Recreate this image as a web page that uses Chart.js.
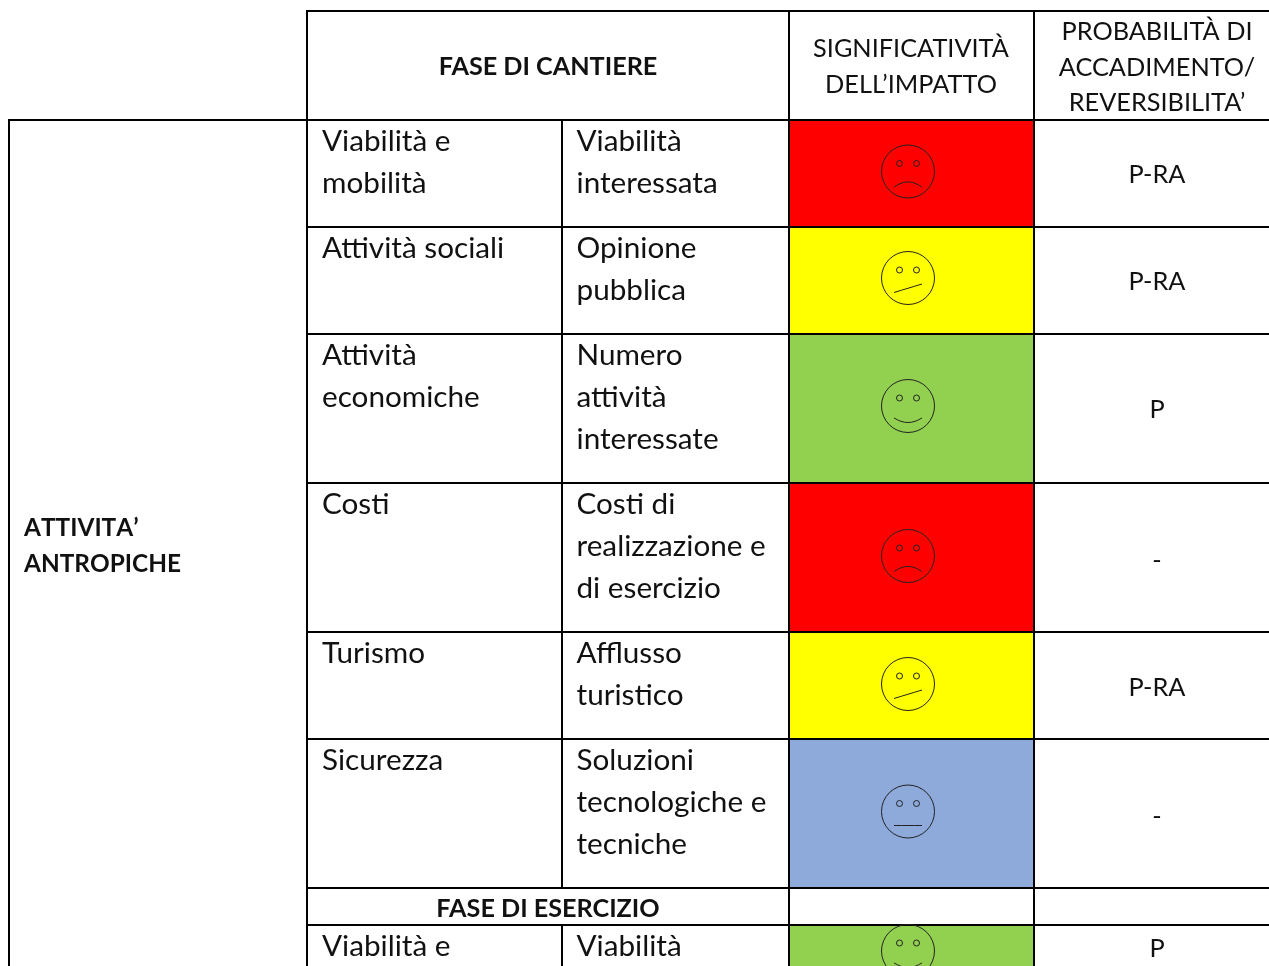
<!DOCTYPE html>
<html>
<head>
<meta charset="utf-8">
<title>Fase di cantiere</title>
<script src="https://cdn.jsdelivr.net/npm/chart.js@4"></script>
<style>
  html, body { margin: 0; padding: 0; background: #fff; overflow: hidden; }
  canvas { display: block; }
</style>
</head>
<body>
<canvas id="impactTable" width="1269" height="966"></canvas>
<script>
// table content
const groupLabel = ["ATTIVITA’", "ANTROPICHE"];
const phaseLabels = ["FASE DI CANTIERE", "FASE DI ESERCIZIO"];
const impactHeader = ["SIGNIFICATIVITÀ", "DELL’IMPATTO"];
const probabilityHeader = ["PROBABILITÀ DI", "ACCADIMENTO/", "REVERSIBILITA’"];
const themes = [["Viabilità e", "mobilità"], ["Attività sociali"], ["Attività", "economiche"], ["Costi"], ["Turismo"], ["Sicurezza"], ["Viabilità e"]];
const indicators = [["Viabilità", "interessata"], ["Opinione", "pubblica"], ["Numero", "attività", "interessate"], ["Costi di", "realizzazione e", "di esercizio"], ["Afflusso", "turistico"], ["Soluzioni", "tecnologiche e", "tecniche"], ["Viabilità"]];
const impacts = ["negative", "medium", "positive", "negative", "medium", "neutral", "positive"];
const probabilities = ["P-RA", "P-RA", "P", "-", "P-RA", "-", "P"];

// layout of the table, in page pixels
const colEdges = [9, 307, 562, 789, 1034, 1269];
const rowTops = [120, 227, 334, 483, 632, 739, 925];
const rowBottoms = [227, 334, 483, 632, 739, 888, 966];
const faceRows = [171.5, 278, 406, 556, 684, 811.5, 951];
const probRows = [183, 290, 418, 569, 696, 825, 957];
const faceX = 908;

const impactColors = { negative: "#ff0000", medium: "#ffff00", positive: "#92d050", neutral: "#8eaadb" };
// mouth shape: offsets from the face centre
const mouths = {
  negative: [[-14, 15.5], [-7, 11.8], [0, 10.5], [7, 11.8], [14, 15.5]],
  medium: [[-14, 14.5], [14, 6]],
  positive: [[-14, 12], [-7, 15.3], [0, 16.5], [7, 15.3], [14, 12]],
  neutral: [[-14, 14], [14, 14]]
};

const rules = [
  [[307, 11], [1269, 11]],
  [[9, 120], [1269, 120]],
  [[307, 227], [1269, 227]],
  [[307, 334], [1269, 334]],
  [[307, 483], [1269, 483]],
  [[307, 632], [1269, 632]],
  [[307, 739], [1269, 739]],
  [[307, 888], [1269, 888]],
  [[307, 925], [1269, 925]],
  [[9, 119], [9, 966]],
  [[307, 10], [307, 966]],
  [[562, 120], [562, 888]],
  [[562, 925], [562, 966]],
  [[789, 10], [789, 966]],
  [[1034, 10], [1034, 966]]
];

const datasets = [];

datasets.push({
  type: "bar",
  order: 3,
  data: impacts.map((k, i) => ({ x: (colEdges[3] + colEdges[4]) / 2, y: [rowTops[i], rowBottoms[i]] })),
  backgroundColor: impacts.map(k => impactColors[k]),
  borderWidth: 0,
  barThickness: colEdges[4] - colEdges[3]
});

rules.forEach(r => {
  datasets.push({
    type: "line",
    order: 2,
    data: r.map(p => ({ x: p[0], y: p[1] })),
    borderColor: "#000",
    borderWidth: 2,
    pointRadius: 0
  });
});

impacts.forEach((k, i) => {
  datasets.push({
    type: "line",
    order: 1,
    data: mouths[k].map(m => ({ x: faceX + m[0], y: faceRows[i] + m[1] })),
    borderColor: "#222",
    borderWidth: 1,
    tension: 0.4,
    pointRadius: 0
  });
});

datasets.push({
  type: "scatter",
  order: 1,
  data: faceRows.map(y => ({ x: faceX, y: y })),
  pointStyle: "circle",
  pointRadius: 26.5,
  pointBackgroundColor: "transparent",
  pointBorderColor: "#222",
  pointBorderWidth: 1
});

datasets.push({
  type: "scatter",
  order: 1,
  data: faceRows.flatMap(y => [{ x: faceX - 8.5, y: y - 8 }, { x: faceX + 8.5, y: y - 8 }]),
  pointStyle: "circle",
  pointRadius: 3,
  pointBackgroundColor: "transparent",
  pointBorderColor: "#222",
  pointBorderWidth: 1
});

const FONT = "29.7px Lato";
const SMALL = "25.3px Lato";
const BOLD = "bold 25.2px Lato";
const GROUP = "bold 24.4px Lato";

const tableText = {
  id: "tableText",
  afterDraw(chart) {
    const ctx = chart.ctx;
    const px = v => chart.scales.x.getPixelForValue(v);
    const py = v => chart.scales.y.getPixelForValue(v);
    const put = (txt, x, y, font, align) => {
      ctx.font = font;
      ctx.textAlign = align;
      ctx.fillText(txt, px(x), py(y));
    };
    ctx.save();
    ctx.fillStyle = "#111";
    ctx.textBaseline = "alphabetic";

    put(phaseLabels[0], 548, 75, BOLD, "center");
    put(phaseLabels[1], 548, 917, BOLD, "center");
    impactHeader.forEach((t, i) => put(t, 911, 57 + i * 36, SMALL, "center"));
    probabilityHeader.forEach((t, i) => put(t, 1157, 40 + i * 35.5, SMALL, "center"));

    ctx.fontKerning = "none";
    groupLabel.forEach((t, i) => put(t, 24, 536 + i * 36, GROUP, "left"));
    ctx.fontKerning = "auto";

    themes.forEach((lines, r) => {
      lines.forEach((t, i) => put(t, colEdges[1] + 15, rowTops[r] + 31 + i * 42, FONT, "left"));
    });
    indicators.forEach((lines, r) => {
      lines.forEach((t, i) => put(t, colEdges[2] + 14.5, rowTops[r] + 31 + i * 42, FONT, "left"));
    });
    probabilities.forEach((t, r) => put(t, 1157, probRows[r], SMALL, "center"));
    ctx.restore();
  }
};

const ctx = document.getElementById("impactTable").getContext("2d");
const chart = new Chart(ctx, {
  data: { datasets: datasets },
  plugins: [tableText],
  options: {
    responsive: false,
    animation: false,
    events: [],
    layout: { autoPadding: false, padding: 0 },
    plugins: { legend: { display: false }, tooltip: { enabled: false }, title: { display: false } },
    scales: {
      x: { type: "linear", min: 0, max: 1269, display: false, offset: false },
      y: { type: "linear", min: 0, max: 966, reverse: true, display: false, offset: false }
    }
  }
});
</script>
</body>
</html>
